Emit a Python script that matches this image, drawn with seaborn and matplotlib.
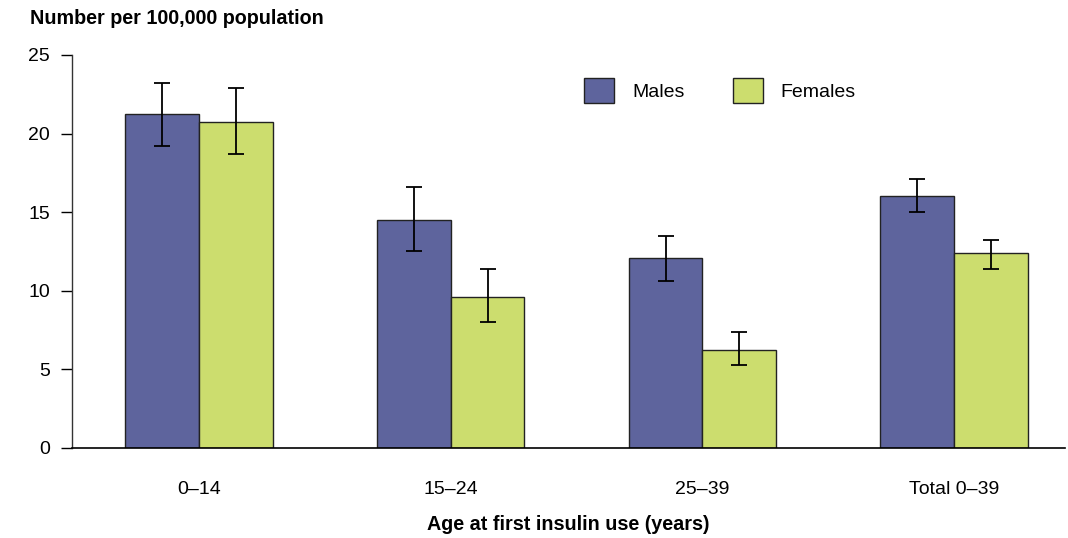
import pandas as pd
import seaborn as sns
import matplotlib.pyplot as plt
from matplotlib.patches import Patch

# values
age_groups = ["0–14", "15–24", "25–39", "Total 0–39"]
males = [21.25, 14.5, 12.1, 16.0]
males_lo = [19.2, 12.5, 10.6, 15.0]
males_hi = [23.2, 16.6, 13.5, 17.1]
females = [20.75, 9.6, 6.25, 12.4]
females_lo = [18.7, 8.0, 5.25, 11.4]
females_hi = [22.9, 11.4, 7.35, 13.2]

male_col = "#5e649d"
female_col = "#ccdd6e"

df = pd.DataFrame({
    "age": age_groups * 2,
    "sex": ["Males"] * 4 + ["Females"] * 4,
    "rate": males + females,
    "lo": males_lo + females_lo,
    "hi": males_hi + females_hi,
})

plt.rcParams['font.family'] = ['Liberation Sans', 'DejaVu Sans']
fig = plt.figure(figsize=(10.68, 5.38), dpi=100)
ax = fig.add_axes([0.0674, 0.1673, 0.9296, 0.7305])

sns.barplot(data=df, x="age", y="rate", hue="sex", order=age_groups,
            hue_order=["Males", "Females"],
            palette={"Males": male_col, "Females": female_col}, saturation=1,
            errorbar=None, width=0.585, edgecolor="#222222", linewidth=1,
            legend=False, ax=ax)

# error bars at the bar centres
for cont, sex in zip(ax.containers, ["Males", "Females"]):
    sub = df[df["sex"] == sex].set_index("age").loc[age_groups]
    xs = [b.get_x() + b.get_width() / 2 for b in cont]
    ax.errorbar(xs, sub["rate"],
                yerr=[sub["rate"] - sub["lo"], sub["hi"] - sub["rate"]],
                fmt="none", ecolor="black", elinewidth=1.3, capsize=5.5, capthick=1.3)

ax.set_ylim(0, 25)
ax.set_xlim(-0.505, 3.44)
ax.set_yticks([0, 5, 10, 15, 20, 25])
ax.tick_params(axis="y", direction="out", length=8, width=1, labelsize=14, pad=8)
ax.tick_params(axis="x", length=0, labelsize=14, pad=24)
for s in ["top", "right"]:
    ax.spines[s].set_visible(False)
ax.spines["left"].set_linewidth(1)
ax.spines["bottom"].set_linewidth(1.2)
ax.spines["left"].set_color("#333333")

ax.set_xlabel("Age at first insulin use (years)", fontsize=14.2, fontweight="bold", labelpad=12)
ax.set_ylabel("")
fig.text(0.028, 0.966, "Number per 100,000 population", fontsize=14.2, fontweight="bold",
         va="center", ha="left")

handles = [Patch(facecolor=male_col, edgecolor="#222222", label="Males"),
           Patch(facecolor=female_col, edgecolor="#222222", label="Females")]
ax.legend(handles=handles, loc="center left", bbox_to_anchor=(0.516, 0.91), ncol=2,
          frameon=False, fontsize=14, handlelength=1.55, handleheight=1.55,
          columnspacing=2.5, handletextpad=0.9, borderaxespad=0, borderpad=0)

fig.savefig("out.png", dpi=100)
